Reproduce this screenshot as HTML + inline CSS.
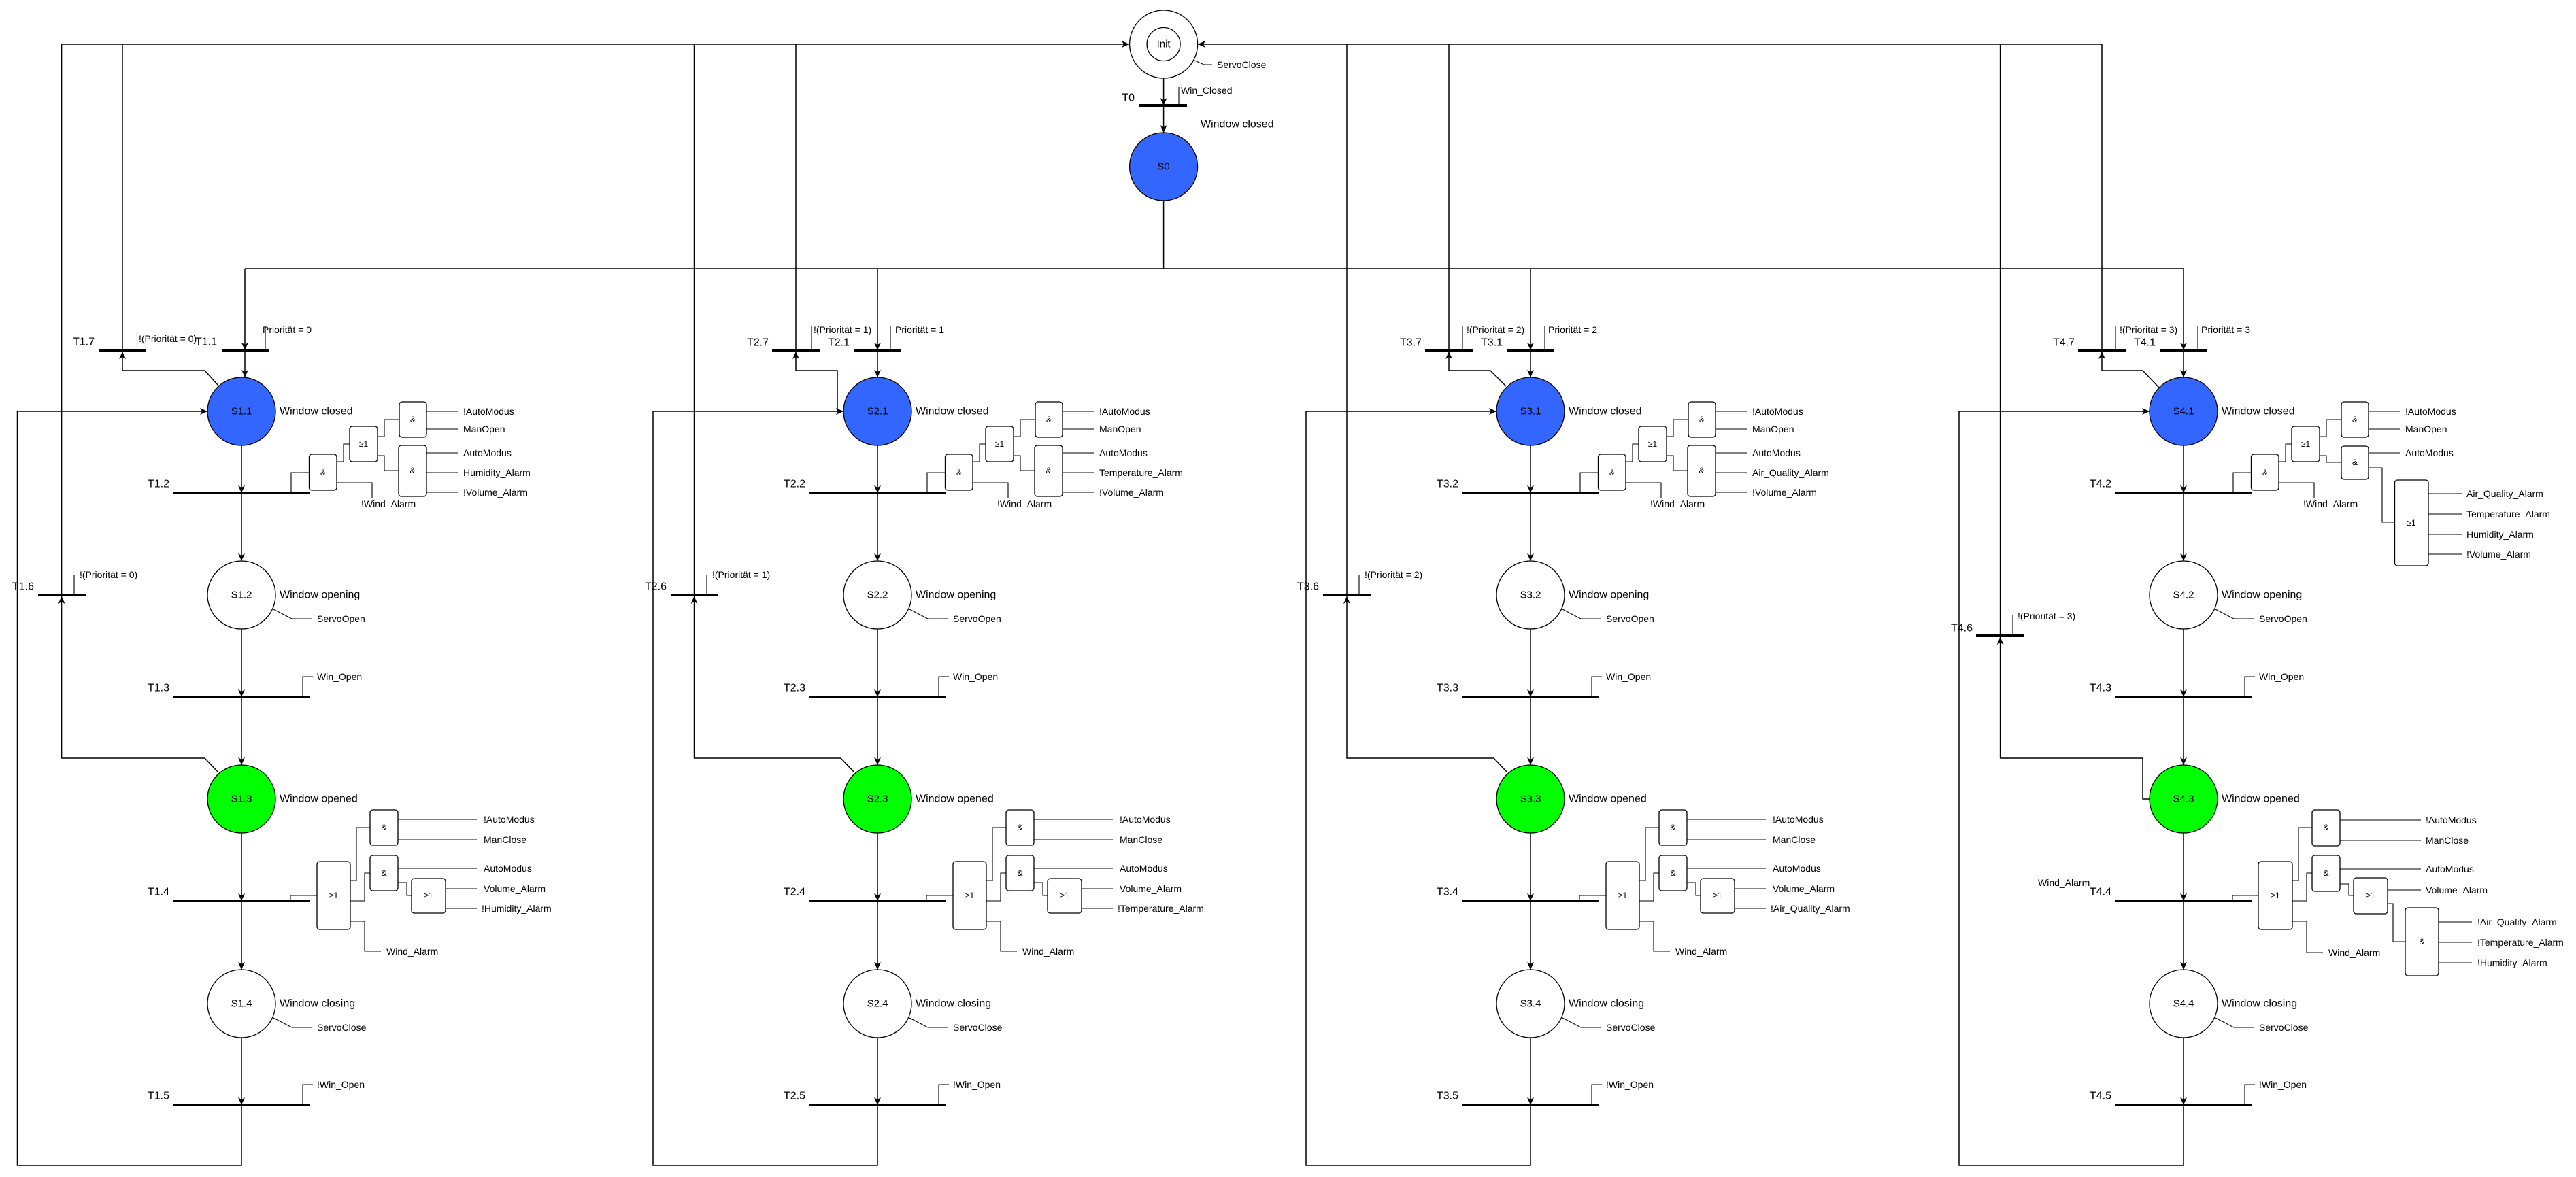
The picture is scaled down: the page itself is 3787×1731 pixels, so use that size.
<!DOCTYPE html>
<html><head><meta charset="utf-8"><style>
html,body{margin:0;padding:0;background:#fff;}
svg{display:block;}
.l{fill:none;stroke:#000;stroke-width:1.5;}
.t{fill:none;stroke:#000;stroke-width:1.1;}
.b{fill:none;stroke:#000;stroke-width:4;}
.g{fill:#fff;stroke:#000;stroke-width:1.3;}
text{font-family:"Liberation Sans",Arial,sans-serif;fill:#000;dominant-baseline:central;}
.sn{font-size:15px;text-anchor:middle;}
.d{font-size:16px;}
.tl{font-size:16px;text-anchor:end;}
.s{font-size:14px;}
.gl{font-size:12px;text-anchor:middle;}
</style></head><body>
<svg width="3787" height="1731" viewBox="0 0 3787 1731" xmlns="http://www.w3.org/2000/svg">
<defs>
<marker id="a" markerUnits="userSpaceOnUse" markerWidth="12" markerHeight="10" refX="11" refY="5" orient="auto">
<path d="M0,0 L11,5 L0,10 L3,5 z" fill="#000"/>
</marker>
</defs>

<!-- Init -->
<circle cx="1710.6" cy="65" r="50" class="g"/>
<circle cx="1710.6" cy="65" r="24.5" class="g"/>
<text x="1710.6" y="65" class="sn">Init</text>
<path class="l" d="M90.6,65 H1660" marker-end="url(#a)"/>
<path class="l" d="M3090,65 H1761" marker-end="url(#a)"/>
<path class="t" d="M1754,88 L1770,95 H1782"/>
<text x="1789" y="95" class="s">ServoClose</text>
<path class="l" d="M1710.6,115 V155" marker-end="url(#a)"/>
<path class="b" d="M1675,155 H1745"/>
<path class="t" d="M1733,155 V128"/>
<text x="1736" y="133" class="s">Win_Closed</text>
<text x="1668" y="144" class="tl">T0</text>
<path class="l" d="M1710.6,155 V195" marker-end="url(#a)"/>
<circle cx="1710.6" cy="245" r="50" fill="#3366ff" stroke="#000" stroke-width="1.3"/>
<text x="1710.6" y="245" class="sn">S0</text>
<text x="1765" y="183" class="d">Window closed</text>
<path class="l" d="M1710.6,295 V395"/>
<path class="l" d="M360,395 H3210"/>

<!-- ================= Section 1 ================= -->
<g transform="translate(355,0)">
<path class="l" d="M5,395 V515" marker-end="url(#a)"/>
<path class="b" d="M-29,515 H40"/>
<path class="l" d="M5,515 V555" marker-end="url(#a)"/>
<path class="t" d="M35,515 V480"/>
<text x="31" y="485" class="s">Priorität = 0</text>
<text x="-36" y="503" class="tl">T1.1</text>
<path class="l" d="M-175,65 V515"/>
<path class="b" d="M-210,515 H-140"/>
<path class="t" d="M-153.5,515 V488"/>
<text x="-151" y="498" class="s">!(Priorität = 0)</text>
<text x="-216" y="503" class="tl">T1.7</text>
<path class="l" d="M-34,567 L-54,545 H-175 V517" marker-end="url(#a)"/>
<path class="l" d="M-264.4,65 V875"/>
<path class="b" d="M-299,875 H-229"/>
<path class="t" d="M-246,875 V845"/>
<text x="-238" y="845" class="s">!(Priorität = 0)</text>
<text x="-305" y="863" class="tl">T1.6</text>
<path class="l" d="M-34,1136 L-54,1115 H-264.4 V877" marker-end="url(#a)"/>
<path class="l" d="M0,1625 V1714 H-329.5 V605 H-50" marker-end="url(#a)"/>

<circle cx="0" cy="605" r="50" fill="#3366ff" stroke="#000" stroke-width="1.3"/>
<text x="0" y="605" class="sn">S1.1</text>
<text x="56" y="605" class="d">Window closed</text>
<path class="l" d="M0,655 V725" marker-end="url(#a)"/>
<path class="b" d="M-100,725 H100"/>
<text x="-106" y="712" class="tl">T1.2</text>
<path class="l" d="M0,725 V825" marker-end="url(#a)"/>
<circle cx="0" cy="875" r="50" class="g"/>
<text x="0" y="875" class="sn">S1.2</text>
<text x="56" y="875" class="d">Window opening</text>
<path class="t" d="M47,896 L74,910 H104"/>
<text x="111" y="910" class="s">ServoOpen</text>
<path class="l" d="M0,925 V1025" marker-end="url(#a)"/>
<path class="b" d="M-100,1025 H100"/>
<text x="-106" y="1012" class="tl">T1.3</text>
<path class="t" d="M90,1025 V995 H105"/>
<text x="111" y="995" class="s">Win_Open</text>
<path class="l" d="M0,1025 V1125" marker-end="url(#a)"/>
<circle cx="0" cy="1175" r="50" fill="#00ff00" stroke="#000" stroke-width="1.3"/>
<text x="0" y="1175" class="sn">S1.3</text>
<text x="56" y="1175" class="d">Window opened</text>
<path class="l" d="M0,1225 V1325" marker-end="url(#a)"/>
<path class="b" d="M-100,1325 H100"/>
<text x="-106" y="1312" class="tl">T1.4</text>
<path class="l" d="M0,1325 V1426" marker-end="url(#a)"/>
<circle cx="0" cy="1476" r="50" class="g"/>
<text x="0" y="1476" class="sn">S1.4</text>
<text x="56" y="1476" class="d">Window closing</text>
<path class="t" d="M47,1497 L74,1511 H104"/>
<text x="111" y="1511" class="s">ServoClose</text>
<path class="l" d="M0,1526 V1625" marker-end="url(#a)"/>
<path class="b" d="M-100,1625 H100"/>
<text x="-106" y="1612" class="tl">T1.5</text>
<path class="t" d="M90,1625 V1595 H105"/>
<text x="111" y="1595" class="s">!Win_Open</text>

<!-- T1.2 logic -->
<path class="t" d="M73,725 V695 H99.5"/>
<rect x="99.5" y="668" width="40.5" height="53" rx="4" class="g"/><text x="120" y="695" class="gl">&amp;</text>
<path class="t" d="M140,679 H150 V653 H159"/>
<path class="t" d="M140,710 H192 V733"/>
<text x="176" y="741" class="s">!Wind_Alarm</text>
<rect x="159" y="627" width="41" height="52" rx="4" class="g"/><text x="179.5" y="653" class="gl">≥1</text>
<path class="t" d="M200,642 H210 V617 H232"/>
<path class="t" d="M200,670 H210 V692 H231"/>
<rect x="232" y="591" width="40" height="52" rx="4" class="g"/><text x="252" y="617" class="gl">&amp;</text>
<path class="t" d="M272,605 H319 M272,631 H319"/>
<text x="326" y="605" class="s">!AutoModus</text>
<text x="326" y="631" class="s">ManOpen</text>
<rect x="231" y="655" width="41" height="75" rx="4" class="g"/><text x="251.5" y="692" class="gl">&amp;</text>
<path class="t" d="M272,666 H319 M272,695 H319 M272,724 H319"/>
<text x="326" y="666" class="s">AutoModus</text>
<text x="326" y="695" class="s">Humidity_Alarm</text>
<text x="326" y="724" class="s">!Volume_Alarm</text>

<!-- T1.4 logic -->
<path class="t" d="M72,1325 V1317 H111"/>
<rect x="111" y="1267" width="49" height="100" rx="4" class="g"/><text x="135.5" y="1317" class="gl">≥1</text>
<path class="t" d="M160,1295 H169 V1217 H189"/>
<path class="t" d="M160,1325 H181 V1284 H189"/>
<path class="t" d="M160,1355 H181 V1399 H205"/>
<text x="213" y="1399" class="s">Wind_Alarm</text>
<rect x="189" y="1191" width="41" height="52" rx="4" class="g"/><text x="209.5" y="1217" class="gl">&amp;</text>
<path class="t" d="M230,1205 H346 M230,1235 H346"/>
<text x="356" y="1205" class="s">!AutoModus</text>
<text x="356" y="1235" class="s">ManClose</text>
<rect x="189" y="1258" width="41" height="52" rx="4" class="g"/><text x="209.5" y="1284" class="gl">&amp;</text>
<path class="t" d="M230,1277 H346"/>
<text x="356" y="1277" class="s">AutoModus</text>
<path class="t" d="M230,1298 H243 V1317 H250"/>
<rect x="250" y="1292" width="50" height="51" rx="4" class="g"/><text x="275" y="1317" class="gl">≥1</text>
<path class="t" d="M300,1307 H346 M300,1336 H346"/>
<text x="356" y="1307" class="s">Volume_Alarm</text>
<text x="353" y="1336" class="s">!Humidity_Alarm</text>
</g>

<!-- ================= Section 2 ================= -->
<g transform="translate(1290,0)">
<path class="l" d="M0,395 V515" marker-end="url(#a)"/>
<path class="b" d="M-35,515 H35"/>
<path class="l" d="M0,515 V555" marker-end="url(#a)"/>
<path class="t" d="M19,515 V480"/>
<text x="26" y="485" class="s">Priorität = 1</text>
<text x="-41" y="504" class="tl">T2.1</text>
<path class="l" d="M-120,65 V515"/>
<path class="b" d="M-155,515 H-85"/>
<path class="t" d="M-97,515 V480"/>
<text x="-94" y="485" class="s">!(Priorität = 1)</text>
<text x="-160" y="504" class="tl">T2.7</text>
<path class="l" d="M-59,605 V545 H-120 V517" marker-end="url(#a)"/>
<path class="l" d="M-269.5,65 V875"/>
<path class="b" d="M-304,875 H-234"/>
<path class="t" d="M-251,875 V845"/>
<text x="-243" y="845" class="s">!(Priorität = 1)</text>
<text x="-310" y="863" class="tl">T2.6</text>
<path class="l" d="M-34,1136 L-54,1115 H-269.5 V877" marker-end="url(#a)"/>
<path class="l" d="M0,1625 V1714 H-330 V605 H-50" marker-end="url(#a)"/>

<circle cx="0" cy="605" r="50" fill="#3366ff" stroke="#000" stroke-width="1.3"/>
<text x="0" y="605" class="sn">S2.1</text>
<text x="56" y="605" class="d">Window closed</text>
<path class="l" d="M0,655 V725" marker-end="url(#a)"/>
<path class="b" d="M-100,725 H100"/>
<text x="-106" y="712" class="tl">T2.2</text>
<path class="l" d="M0,725 V825" marker-end="url(#a)"/>
<circle cx="0" cy="875" r="50" class="g"/>
<text x="0" y="875" class="sn">S2.2</text>
<text x="56" y="875" class="d">Window opening</text>
<path class="t" d="M47,896 L74,910 H104"/>
<text x="111" y="910" class="s">ServoOpen</text>
<path class="l" d="M0,925 V1025" marker-end="url(#a)"/>
<path class="b" d="M-100,1025 H100"/>
<text x="-106" y="1012" class="tl">T2.3</text>
<path class="t" d="M90,1025 V995 H105"/>
<text x="111" y="995" class="s">Win_Open</text>
<path class="l" d="M0,1025 V1125" marker-end="url(#a)"/>
<circle cx="0" cy="1175" r="50" fill="#00ff00" stroke="#000" stroke-width="1.3"/>
<text x="0" y="1175" class="sn">S2.3</text>
<text x="56" y="1175" class="d">Window opened</text>
<path class="l" d="M0,1225 V1325" marker-end="url(#a)"/>
<path class="b" d="M-100,1325 H100"/>
<text x="-106" y="1312" class="tl">T2.4</text>
<path class="l" d="M0,1325 V1426" marker-end="url(#a)"/>
<circle cx="0" cy="1476" r="50" class="g"/>
<text x="0" y="1476" class="sn">S2.4</text>
<text x="56" y="1476" class="d">Window closing</text>
<path class="t" d="M47,1497 L74,1511 H104"/>
<text x="111" y="1511" class="s">ServoClose</text>
<path class="l" d="M0,1526 V1625" marker-end="url(#a)"/>
<path class="b" d="M-100,1625 H100"/>
<text x="-106" y="1612" class="tl">T2.5</text>
<path class="t" d="M90,1625 V1595 H105"/>
<text x="111" y="1595" class="s">!Win_Open</text>

<path class="t" d="M73,725 V695 H99.5"/>
<rect x="99.5" y="668" width="40.5" height="53" rx="4" class="g"/><text x="120" y="695" class="gl">&amp;</text>
<path class="t" d="M140,679 H150 V653 H159"/>
<path class="t" d="M140,710 H192 V733"/>
<text x="176" y="741" class="s">!Wind_Alarm</text>
<rect x="159" y="627" width="41" height="52" rx="4" class="g"/><text x="179.5" y="653" class="gl">≥1</text>
<path class="t" d="M200,642 H210 V617 H232"/>
<path class="t" d="M200,670 H210 V692 H231"/>
<rect x="232" y="591" width="40" height="52" rx="4" class="g"/><text x="252" y="617" class="gl">&amp;</text>
<path class="t" d="M272,605 H319 M272,631 H319"/>
<text x="326" y="605" class="s">!AutoModus</text>
<text x="326" y="631" class="s">ManOpen</text>
<rect x="231" y="655" width="41" height="75" rx="4" class="g"/><text x="251.5" y="692" class="gl">&amp;</text>
<path class="t" d="M272,666 H319 M272,695 H319 M272,724 H319"/>
<text x="326" y="666" class="s">AutoModus</text>
<text x="326" y="695" class="s">Temperature_Alarm</text>
<text x="326" y="724" class="s">!Volume_Alarm</text>

<path class="t" d="M72,1325 V1317 H111"/>
<rect x="111" y="1267" width="49" height="100" rx="4" class="g"/><text x="135.5" y="1317" class="gl">≥1</text>
<path class="t" d="M160,1295 H169 V1217 H189"/>
<path class="t" d="M160,1325 H181 V1284 H189"/>
<path class="t" d="M160,1355 H181 V1399 H205"/>
<text x="213" y="1399" class="s">Wind_Alarm</text>
<rect x="189" y="1191" width="41" height="52" rx="4" class="g"/><text x="209.5" y="1217" class="gl">&amp;</text>
<path class="t" d="M230,1205 H346 M230,1235 H346"/>
<text x="356" y="1205" class="s">!AutoModus</text>
<text x="356" y="1235" class="s">ManClose</text>
<rect x="189" y="1258" width="41" height="52" rx="4" class="g"/><text x="209.5" y="1284" class="gl">&amp;</text>
<path class="t" d="M230,1277 H346"/>
<text x="356" y="1277" class="s">AutoModus</text>
<path class="t" d="M230,1298 H243 V1317 H250"/>
<rect x="250" y="1292" width="50" height="51" rx="4" class="g"/><text x="275" y="1317" class="gl">≥1</text>
<path class="t" d="M300,1307 H346 M300,1336 H346"/>
<text x="356" y="1307" class="s">Volume_Alarm</text>
<text x="353" y="1336" class="s">!Temperature_Alarm</text>
</g>

<!-- ================= Section 3 ================= -->
<g transform="translate(2250,0)">
<path class="l" d="M0,395 V515" marker-end="url(#a)"/>
<path class="b" d="M-35,515 H35"/>
<path class="l" d="M0,515 V555" marker-end="url(#a)"/>
<path class="t" d="M21,515 V480"/>
<text x="26" y="485" class="s">Priorität = 2</text>
<text x="-41" y="504" class="tl">T3.1</text>
<path class="l" d="M-120,65 V515"/>
<path class="b" d="M-155,515 H-85"/>
<path class="t" d="M-100,515 V480"/>
<text x="-94" y="485" class="s">!(Priorität = 2)</text>
<text x="-160" y="504" class="tl">T3.7</text>
<path class="l" d="M-36,568 L-59,545 H-120 V517" marker-end="url(#a)"/>
<path class="l" d="M-270,65 V875"/>
<path class="b" d="M-305,875 H-235"/>
<path class="t" d="M-252,875 V845"/>
<text x="-244" y="845" class="s">!(Priorität = 2)</text>
<text x="-311" y="863" class="tl">T3.6</text>
<path class="l" d="M-34,1136 L-54,1115 H-270 V877" marker-end="url(#a)"/>
<path class="l" d="M0,1625 V1714 H-330 V605 H-50" marker-end="url(#a)"/>

<circle cx="0" cy="605" r="50" fill="#3366ff" stroke="#000" stroke-width="1.3"/>
<text x="0" y="605" class="sn">S3.1</text>
<text x="56" y="605" class="d">Window closed</text>
<path class="l" d="M0,655 V725" marker-end="url(#a)"/>
<path class="b" d="M-100,725 H100"/>
<text x="-106" y="712" class="tl">T3.2</text>
<path class="l" d="M0,725 V825" marker-end="url(#a)"/>
<circle cx="0" cy="875" r="50" class="g"/>
<text x="0" y="875" class="sn">S3.2</text>
<text x="56" y="875" class="d">Window opening</text>
<path class="t" d="M47,896 L74,910 H104"/>
<text x="111" y="910" class="s">ServoOpen</text>
<path class="l" d="M0,925 V1025" marker-end="url(#a)"/>
<path class="b" d="M-100,1025 H100"/>
<text x="-106" y="1012" class="tl">T3.3</text>
<path class="t" d="M90,1025 V995 H105"/>
<text x="111" y="995" class="s">Win_Open</text>
<path class="l" d="M0,1025 V1125" marker-end="url(#a)"/>
<circle cx="0" cy="1175" r="50" fill="#00ff00" stroke="#000" stroke-width="1.3"/>
<text x="0" y="1175" class="sn">S3.3</text>
<text x="56" y="1175" class="d">Window opened</text>
<path class="l" d="M0,1225 V1325" marker-end="url(#a)"/>
<path class="b" d="M-100,1325 H100"/>
<text x="-106" y="1312" class="tl">T3.4</text>
<path class="l" d="M0,1325 V1426" marker-end="url(#a)"/>
<circle cx="0" cy="1476" r="50" class="g"/>
<text x="0" y="1476" class="sn">S3.4</text>
<text x="56" y="1476" class="d">Window closing</text>
<path class="t" d="M47,1497 L74,1511 H104"/>
<text x="111" y="1511" class="s">ServoClose</text>
<path class="l" d="M0,1526 V1625" marker-end="url(#a)"/>
<path class="b" d="M-100,1625 H100"/>
<text x="-106" y="1612" class="tl">T3.5</text>
<path class="t" d="M90,1625 V1595 H105"/>
<text x="111" y="1595" class="s">!Win_Open</text>

<path class="t" d="M73,725 V695 H99.5"/>
<rect x="99.5" y="668" width="40.5" height="53" rx="4" class="g"/><text x="120" y="695" class="gl">&amp;</text>
<path class="t" d="M140,679 H150 V653 H159"/>
<path class="t" d="M140,710 H192 V733"/>
<text x="176" y="741" class="s">!Wind_Alarm</text>
<rect x="159" y="627" width="41" height="52" rx="4" class="g"/><text x="179.5" y="653" class="gl">≥1</text>
<path class="t" d="M200,642 H210 V617 H232"/>
<path class="t" d="M200,670 H210 V692 H231"/>
<rect x="232" y="591" width="40" height="52" rx="4" class="g"/><text x="252" y="617" class="gl">&amp;</text>
<path class="t" d="M272,605 H319 M272,631 H319"/>
<text x="326" y="605" class="s">!AutoModus</text>
<text x="326" y="631" class="s">ManOpen</text>
<rect x="231" y="655" width="41" height="75" rx="4" class="g"/><text x="251.5" y="692" class="gl">&amp;</text>
<path class="t" d="M272,666 H319 M272,695 H319 M272,724 H319"/>
<text x="326" y="666" class="s">AutoModus</text>
<text x="326" y="695" class="s">Air_Quality_Alarm</text>
<text x="326" y="724" class="s">!Volume_Alarm</text>

<path class="t" d="M72,1325 V1317 H111"/>
<rect x="111" y="1267" width="49" height="100" rx="4" class="g"/><text x="135.5" y="1317" class="gl">≥1</text>
<path class="t" d="M160,1295 H169 V1217 H189"/>
<path class="t" d="M160,1325 H181 V1284 H189"/>
<path class="t" d="M160,1355 H181 V1399 H205"/>
<text x="213" y="1399" class="s">Wind_Alarm</text>
<rect x="189" y="1191" width="41" height="52" rx="4" class="g"/><text x="209.5" y="1217" class="gl">&amp;</text>
<path class="t" d="M230,1205 H346 M230,1235 H346"/>
<text x="356" y="1205" class="s">!AutoModus</text>
<text x="356" y="1235" class="s">ManClose</text>
<rect x="189" y="1258" width="41" height="52" rx="4" class="g"/><text x="209.5" y="1284" class="gl">&amp;</text>
<path class="t" d="M230,1277 H346"/>
<text x="356" y="1277" class="s">AutoModus</text>
<path class="t" d="M230,1298 H243 V1317 H250"/>
<rect x="250" y="1292" width="50" height="51" rx="4" class="g"/><text x="275" y="1317" class="gl">≥1</text>
<path class="t" d="M300,1307 H346 M300,1336 H346"/>
<text x="356" y="1307" class="s">Volume_Alarm</text>
<text x="353" y="1336" class="s">!Air_Quality_Alarm</text>
</g>

<!-- ================= Section 4 ================= -->
<g transform="translate(3210,0)">
<path class="l" d="M0,395 V515" marker-end="url(#a)"/>
<path class="b" d="M-35,515 H35"/>
<path class="l" d="M0,515 V555" marker-end="url(#a)"/>
<path class="t" d="M21,515 V480"/>
<text x="26" y="485" class="s">Priorität = 3</text>
<text x="-41" y="504" class="tl">T4.1</text>
<path class="l" d="M-120,65 V515"/>
<path class="b" d="M-155,515 H-85"/>
<path class="t" d="M-100,515 V480"/>
<text x="-94" y="485" class="s">!(Priorität = 3)</text>
<text x="-160" y="504" class="tl">T4.7</text>
<path class="l" d="M-36,570 L-60,545 H-120 V517" marker-end="url(#a)"/>
<path class="l" d="M-269.4,65 V935"/>
<path class="b" d="M-305,935 H-235"/>
<path class="t" d="M-251,935 V904"/>
<text x="-244" y="906" class="s">!(Priorität = 3)</text>
<text x="-310" y="924" class="tl">T4.6</text>
<path class="l" d="M-50,1175 H-60 V1115 H-269.4 V937" marker-end="url(#a)"/>
<path class="l" d="M0,1625 V1714 H-330 V605 H-50" marker-end="url(#a)"/>

<circle cx="0" cy="605" r="50" fill="#3366ff" stroke="#000" stroke-width="1.3"/>
<text x="0" y="605" class="sn">S4.1</text>
<text x="56" y="605" class="d">Window closed</text>
<path class="l" d="M0,655 V725" marker-end="url(#a)"/>
<path class="b" d="M-100,725 H100"/>
<text x="-106" y="712" class="tl">T4.2</text>
<path class="l" d="M0,725 V825" marker-end="url(#a)"/>
<circle cx="0" cy="875" r="50" class="g"/>
<text x="0" y="875" class="sn">S4.2</text>
<text x="56" y="875" class="d">Window opening</text>
<path class="t" d="M47,896 L74,910 H104"/>
<text x="111" y="910" class="s">ServoOpen</text>
<path class="l" d="M0,925 V1025" marker-end="url(#a)"/>
<path class="b" d="M-100,1025 H100"/>
<text x="-106" y="1012" class="tl">T4.3</text>
<path class="t" d="M90,1025 V995 H105"/>
<text x="111" y="995" class="s">Win_Open</text>
<path class="l" d="M0,1025 V1125" marker-end="url(#a)"/>
<circle cx="0" cy="1175" r="50" fill="#00ff00" stroke="#000" stroke-width="1.3"/>
<text x="0" y="1175" class="sn">S4.3</text>
<text x="56" y="1175" class="d">Window opened</text>
<path class="l" d="M0,1225 V1325" marker-end="url(#a)"/>
<path class="b" d="M-100,1325 H100"/>
<text x="-106" y="1312" class="tl">T4.4</text>
<text x="-214" y="1298" class="s">Wind_Alarm</text>
<path class="l" d="M0,1325 V1426" marker-end="url(#a)"/>
<circle cx="0" cy="1476" r="50" class="g"/>
<text x="0" y="1476" class="sn">S4.4</text>
<text x="56" y="1476" class="d">Window closing</text>
<path class="t" d="M47,1497 L74,1511 H104"/>
<text x="111" y="1511" class="s">ServoClose</text>
<path class="l" d="M0,1526 V1625" marker-end="url(#a)"/>
<path class="b" d="M-100,1625 H100"/>
<text x="-106" y="1612" class="tl">T4.5</text>
<path class="t" d="M90,1625 V1595 H105"/>
<text x="111" y="1595" class="s">!Win_Open</text>

<path class="t" d="M73,725 V695 H99.5"/>
<rect x="99.5" y="668" width="40.5" height="53" rx="4" class="g"/><text x="120" y="695" class="gl">&amp;</text>
<path class="t" d="M140,679 H150 V653 H159"/>
<path class="t" d="M140,710 H192 V733"/>
<text x="176" y="741" class="s">!Wind_Alarm</text>
<rect x="159" y="627" width="41" height="52" rx="4" class="g"/><text x="179.5" y="653" class="gl">≥1</text>
<path class="t" d="M200,642 H210 V617 H232"/>
<path class="t" d="M200,670 H210 V680 H232"/>
<rect x="232" y="591" width="40" height="52" rx="4" class="g"/><text x="252" y="617" class="gl">&amp;</text>
<path class="t" d="M272,605 H318 M272,631 H318"/>
<text x="326" y="605" class="s">!AutoModus</text>
<text x="326" y="631" class="s">ManOpen</text>
<rect x="232" y="656" width="40" height="49" rx="4" class="g"/><text x="252" y="680" class="gl">&amp;</text>
<path class="t" d="M272,666 H318"/>
<text x="326" y="666" class="s">AutoModus</text>
<path class="t" d="M272,688 H292 V768 H310.5"/>
<rect x="310.5" y="706" width="49.5" height="126" rx="4" class="g"/><text x="335" y="769" class="gl">≥1</text>
<path class="t" d="M360,726 H409 M360,756 H409 M360,786 H409 M360,815 H409"/>
<text x="416" y="726" class="s">Air_Quality_Alarm</text>
<text x="416" y="756" class="s">Temperature_Alarm</text>
<text x="416" y="786" class="s">Humidity_Alarm</text>
<text x="416" y="815" class="s">!Volume_Alarm</text>

<path class="t" d="M72,1325 V1317 H110"/>
<rect x="110" y="1267" width="50" height="100" rx="4" class="g"/><text x="135" y="1317" class="gl">≥1</text>
<path class="t" d="M160,1295 H169 V1217 H189"/>
<path class="t" d="M160,1325 H181 V1284 H189"/>
<path class="t" d="M160,1355 H181 V1401 H205"/>
<text x="213" y="1401" class="s">Wind_Alarm</text>
<rect x="189" y="1191" width="41" height="53" rx="4" class="g"/><text x="209.5" y="1217" class="gl">&amp;</text>
<path class="t" d="M230,1206 H349 M230,1236 H349"/>
<text x="356" y="1206" class="s">!AutoModus</text>
<text x="356" y="1236" class="s">ManClose</text>
<rect x="189" y="1258" width="41" height="53" rx="4" class="g"/><text x="209.5" y="1284" class="gl">&amp;</text>
<path class="t" d="M230,1278 H349"/>
<text x="356" y="1278" class="s">AutoModus</text>
<path class="t" d="M230,1300 H243 V1317 H250"/>
<rect x="250" y="1291" width="50" height="53" rx="4" class="g"/><text x="275" y="1317" class="gl">≥1</text>
<path class="t" d="M300,1309 H349"/>
<text x="356" y="1309" class="s">Volume_Alarm</text>
<path class="t" d="M300,1329 H308 V1385 H326"/>
<rect x="326" y="1335" width="49" height="100" rx="4" class="g"/><text x="350.5" y="1385" class="gl">&amp;</text>
<path class="t" d="M375,1356 H424 M375,1386 H424 M375,1416 H424"/>
<text x="432" y="1356" class="s">!Air_Quality_Alarm</text>
<text x="432" y="1386" class="s">!Temperature_Alarm</text>
<text x="432" y="1416" class="s">!Humidity_Alarm</text>
</g>
</svg>
</body></html>
